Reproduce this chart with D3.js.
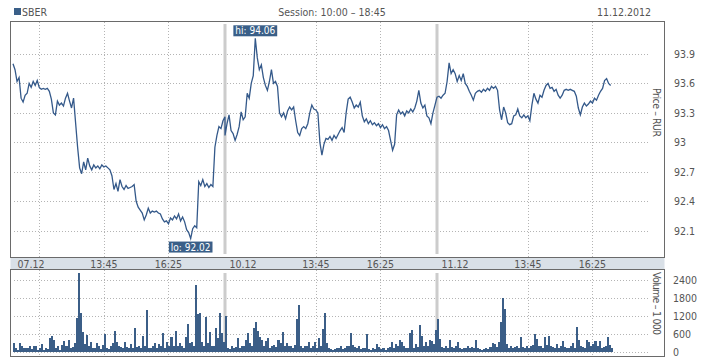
<!DOCTYPE html>
<html>
<head>
<meta charset="utf-8">
<title>SBER</title>
<script src="https://cdn.jsdelivr.net/npm/d3@7"></script>
<style>
  body { margin: 0; background: #fff; }
  text { font-family: "Liberation Sans Narrow", "Arial Narrow", "DejaVu Sans Condensed", sans-serif; font-size: 10.5px; fill: #555; }
</style>
</head>
<body>
<svg id="chart" width="718" height="360"></svg>
<script>
// trading days shown and the session
var days = ['07.12', '10.12', '11.12'];
var session = ['10:00', '18:45'];
var stepMin = 5;
var timeTicks = ['13:45', '16:25'];
var firstDayGrid = ['11:05'];
var priceTicks = [92.1, 92.4, 92.7, 93, 93.3, 93.6, 93.9];
var volumeTicks = [0, 600, 1200, 1800, 2400];

// 5-minute closes, RUR
var prices07 = [93.80, 93.74, 93.62, 93.66, 93.45, 93.41, 93.48, 93.50, 93.60, 93.56,
  93.62, 93.58, 93.63, 93.56, 93.54, 93.55, 93.54, 93.55, 93.52, 93.44,
  93.30, 93.28, 93.42, 93.38, 93.40, 93.37, 93.45, 93.50, 93.42, 93.35,
  93.45, 93.20, 92.95, 92.74, 92.68, 92.80, 92.72, 92.84, 92.76, 92.72,
  92.77, 92.74, 92.76, 92.73, 92.77, 92.75, 92.76, 92.74, 92.72, 92.66,
  92.52, 92.58, 92.50, 92.62, 92.55, 92.52, 92.56, 92.53, 92.54, 92.55,
  92.57, 92.40, 92.34, 92.31, 92.28, 92.21, 92.26, 92.33, 92.28, 92.30,
  92.29, 92.30, 92.28, 92.27, 92.22, 92.19, 92.20, 92.17, 92.23, 92.21,
  92.25, 92.22, 92.27, 92.20, 92.24, 92.19, 92.11, 92.08, 92.02, 92.12,
  92.15, 92.13, 92.60, 92.56, 92.62, 92.55, 92.58, 92.54, 92.57, 92.55,
  92.95, 93.07, 93.16, 93.14, 93.22, 93.26];
var prices10 = [93.07, 93.19, 93.28, 93.12, 93.09, 93.02, 93.08, 93.16, 93.31, 93.23,
  93.26, 93.50, 93.45, 93.60, 93.68, 94.06, 93.86, 93.74, 93.79, 93.66,
  93.58, 93.53, 93.62, 93.74, 93.60, 93.62, 93.57, 93.30, 93.26, 93.30,
  93.24, 93.32, 93.36, 93.33, 93.36, 93.22, 93.10, 93.07, 93.14, 93.16,
  93.14, 93.19, 93.30, 93.38, 93.34, 93.33, 93.30, 93.00, 92.87, 92.98,
  93.04, 93.03, 93.06, 93.02, 93.07, 93.04, 93.08, 93.12, 93.15, 93.10,
  93.30, 93.44, 93.46, 93.41, 93.35, 93.38, 93.36, 93.41, 93.27, 93.21,
  93.24, 93.19, 93.22, 93.18, 93.20, 93.17, 93.19, 93.15, 93.18, 93.14,
  93.16, 93.12, 93.02, 92.92, 92.98, 93.28, 93.33, 93.29, 93.31, 93.27,
  93.32, 93.30, 93.34, 93.31, 93.35, 93.42, 93.53, 93.40, 93.35, 93.38,
  93.27, 93.25, 93.19, 93.30, 93.38, 93.46];
var prices11 = [93.46, 93.47, 93.45, 93.48, 93.50, 93.62, 93.81, 93.70, 93.74, 93.70,
  93.62, 93.68, 93.63, 93.70, 93.60, 93.57, 93.52, 93.48, 93.43, 93.50,
  93.52, 93.53, 93.51, 93.54, 93.52, 93.55, 93.53, 93.57, 93.55, 93.57,
  93.53, 93.33, 93.23, 93.36, 93.30, 93.20, 93.18, 93.19, 93.27, 93.28,
  93.34, 93.27, 93.25, 93.28, 93.25, 93.27, 93.22, 93.38, 93.50, 93.44,
  93.40, 93.48, 93.46, 93.53, 93.58, 93.60, 93.55, 93.56, 93.52, 93.54,
  93.48, 93.45, 93.48, 93.53, 93.54, 93.53, 93.54, 93.53, 93.52, 93.47,
  93.35, 93.28, 93.36, 93.40, 93.37, 93.39, 93.42, 93.40, 93.45, 93.43,
  93.48, 93.52, 93.55, 93.63, 93.65, 93.60, 93.58];

// 5-minute volumes, thousands of shares
var volumes07 = [280, 110, 60, 280, 170, 130, 130, 110, 170, 90,
  200, 170, 60, 110, 240, 60, 110, 90, 440, 520,
  390, 110, 200, 60, 220, 360, 170, 390, 130, 150,
  300, 1110, 2610, 1280, 640, 250, 550, 170, 330, 130,
  110, 280, 170, 90, 220, 580, 130, 90, 170, 280,
  690, 330, 200, 150, 110, 330, 150, 110, 240, 130,
  780, 150, 200, 130, 510, 170, 1380, 130, 110, 200,
  280, 130, 240, 170, 610, 130, 330, 170, 500, 200,
  690, 170, 280, 200, 130, 480, 910, 280, 330, 170,
  2220, 1250, 1280, 330, 200, 1140, 280, 640, 200, 170,
  780, 440, 1280, 610, 330, 1170];
var volumes10 = [220, 130, 90, 170, 110, 150, 440, 110, 170, 200,
  390, 610, 280, 200, 780, 980, 670, 480, 390, 200,
  360, 440, 110, 170, 220, 150, 390, 280, 640, 170,
  280, 200, 170, 130, 220, 1080, 1550, 200, 110, 170,
  200, 330, 130, 200, 310, 130, 440, 200, 740, 1280,
  280, 130, 90, 60, 90, 130, 110, 170, 90, 130,
  170, 200, 610, 220, 150, 110, 170, 90, 130, 110,
  580, 90, 60, 110, 90, 240, 150, 90, 130, 60,
  110, 150, 330, 130, 240, 200, 390, 330, 170, 130,
  110, 610, 730, 130, 240, 150, 870, 530, 170, 330,
  200, 390, 360, 240, 720, 1080];
var volumes11 = [330, 430, 150, 110, 200, 130, 400, 150, 110, 170,
  330, 110, 90, 130, 110, 170, 130, 150, 110, 380,
  110, 90, 60, 90, 130, 90, 150, 270, 240, 150,
  330, 990, 1790, 1410, 240, 130, 170, 110, 150, 200,
  130, 490, 150, 110, 200, 130, 170, 220, 590, 430,
  170, 200, 130, 470, 220, 510, 200, 150, 110, 240,
  130, 170, 360, 150, 110, 130, 170, 290, 110, 810,
  400, 200, 150, 130, 400, 330, 170, 240, 350, 200,
  360, 110, 150, 200, 480, 220, 130];

var prices = [prices07, prices10, prices11];
var volumes = [volumes07, volumes10, volumes11];

var toMin = s => { var p = s.split(':'); return +p[0] * 60 + +p[1]; };
var dayLen = toMin(session[1]) - toMin(session[0]);

var points = [];
var bars = [];
prices.forEach((arr, d) => arr.forEach((p, i) => points.push({ t: d * dayLen + i * stepMin, p: p })));
volumes.forEach((arr, d) => arr.forEach((v, i) => bars.push({ t: d * dayLen + i * stepMin, v: v })));

var svg = d3.select('#chart');

var x = d3.scaleLinear().domain([0, days.length * dayLen]).range([13, 649]);
var y = d3.scaleLinear().domain([92.1, 93.9]).range([230.7, 54]);
var vy = d3.scaleLinear().domain([0, 2400]).range([351.5, 279.5]);

var frameL = 10.5, frameR = 664.5;
var priceTop = 21.5, bandTop = 257.5, bandBot = 269.5, volBot = 356.5;
var gridL = 14, gridR = 649;

// header
svg.append('rect').attr('x', 14).attr('y', 8).attr('width', 7).attr('height', 7).attr('fill', '#3a5f88');
svg.append('text').attr('x', 22).attr('y', 16).text('SBER');
svg.append('text').attr('x', 332).attr('y', 16).attr('text-anchor', 'middle')
  .text('Session: ' + session[0] + ' \u2013 ' + session[1]);
svg.append('text').attr('x', 651).attr('y', 16).attr('text-anchor', 'end').text('11.12.2012');

// band behind the time axis
svg.append('rect').attr('x', frameL).attr('y', bandTop).attr('width', frameR - frameL)
  .attr('height', bandBot - bandTop).attr('fill', '#d9e0e7');

// grid
var grid = svg.append('g').attr('stroke', '#b4b4b4').attr('stroke-dasharray', '1,2')
  .attr('shape-rendering', 'crispEdges');
priceTicks.forEach(v => {
  var yy = Math.round(y(v)) + 0.5;
  grid.append('line').attr('x1', gridL).attr('x2', gridR).attr('y1', yy).attr('y2', yy);
});
volumeTicks.forEach(v => {
  var yy = Math.round(vy(v)) + 0.5;
  grid.append('line').attr('x1', gridL).attr('x2', gridR).attr('y1', yy).attr('y2', yy);
});
var gridTimes = [];
days.forEach((d, i) => {
  var list = i === 0 ? firstDayGrid.concat(timeTicks) : timeTicks;
  list.forEach(t => gridTimes.push(i * dayLen + toMin(t) - toMin(session[0])));
});
gridTimes.forEach(t => {
  var xx = Math.round(x(t)) + 0.5;
  grid.append('line').attr('x1', xx).attr('x2', xx).attr('y1', priceTop).attr('y2', bandTop);
  grid.append('line').attr('x1', xx).attr('x2', xx).attr('y1', bandBot).attr('y2', volBot);
});

// day separators
days.slice(1).forEach((d, i) => {
  var xx = x((i + 1) * dayLen);
  svg.append('rect').attr('x', xx - 1.5).attr('y', 24).attr('width', 3).attr('height', 230).attr('fill', '#cccccc');
  svg.append('rect').attr('x', xx - 1.5).attr('y', 273).attr('width', 3).attr('height', 78).attr('fill', '#cccccc');
});

// volume bars
var bw = x(stepMin) - x(0);
svg.append('g').attr('fill', '#3b5e87').attr('shape-rendering', 'crispEdges')
  .selectAll('rect').data(bars).join('rect')
  .attr('x', d => x(d.t))
  .attr('width', bw)
  .attr('y', d => vy(d.v))
  .attr('height', d => vy(0) - vy(d.v));

// price line
var line = d3.line().x(d => x(d.t)).y(d => y(d.p));
svg.append('path').datum(points).attr('d', line)
  .attr('fill', 'none').attr('stroke', '#34598a').attr('stroke-width', 1.3);

// frames
var frame = svg.append('g').attr('fill', 'none').attr('stroke', '#6a6a6a').attr('shape-rendering', 'crispEdges');
frame.append('rect').attr('x', frameL).attr('y', priceTop).attr('width', frameR - frameL).attr('height', bandTop - priceTop);
frame.append('rect').attr('x', frameL).attr('y', bandBot).attr('width', frameR - frameL).attr('height', volBot - bandBot);

// time axis labels
var axisY = 267.5;
days.forEach((d, i) => {
  svg.append('text').attr('x', x(i * dayLen) + 4.5).attr('y', axisY).text(d);
  timeTicks.forEach(t => {
    svg.append('text').attr('x', x(i * dayLen + toMin(t) - toMin(session[0]))).attr('y', axisY)
      .attr('text-anchor', 'middle').text(t);
  });
});

// right axes
priceTicks.forEach(v => {
  svg.append('text').attr('x', 674).attr('y', y(v) + 4).text(d3.format('~g')(v));
});
volumeTicks.forEach(v => {
  svg.append('text').attr('x', 673).attr('y', vy(v) + 4).text(v);
});
svg.append('text').attr('transform', 'translate(653,112.5) rotate(90)').attr('text-anchor', 'middle')
  .attr('textLength', 49).text('Price \u2013 RUR');
svg.append('text').attr('transform', 'translate(653,303.5) rotate(90)').attr('text-anchor', 'middle')
  .attr('textLength', 63).text('Volume \u2013 1 000');

// hi / lo markers
var hi = points.reduce((a, b) => (b.p > a.p ? b : a));
var lo = points.reduce((a, b) => (b.p < a.p ? b : a));
function marker(pt, label, top) {
  var g = svg.append('g');
  var t = g.append('text').attr('x', x(pt.t)).attr('text-anchor', 'middle')
    .style('fill', '#fff').style('font-size', '10px').text(label);
  var w = t.node().getComputedTextLength() + 4;
  var by = top ? y(pt.p) - 13 : y(pt.p) + 3;
  g.insert('rect', 'text').attr('x', x(pt.t) - w / 2).attr('y', by).attr('width', w).attr('height', 11)
    .attr('fill', '#3a5f88');
  t.attr('y', by + 9);
}
marker(hi, 'hi: ' + hi.p.toFixed(2), true);
marker(lo, 'lo: ' + lo.p.toFixed(2), false);
</script>
</body>
</html>
